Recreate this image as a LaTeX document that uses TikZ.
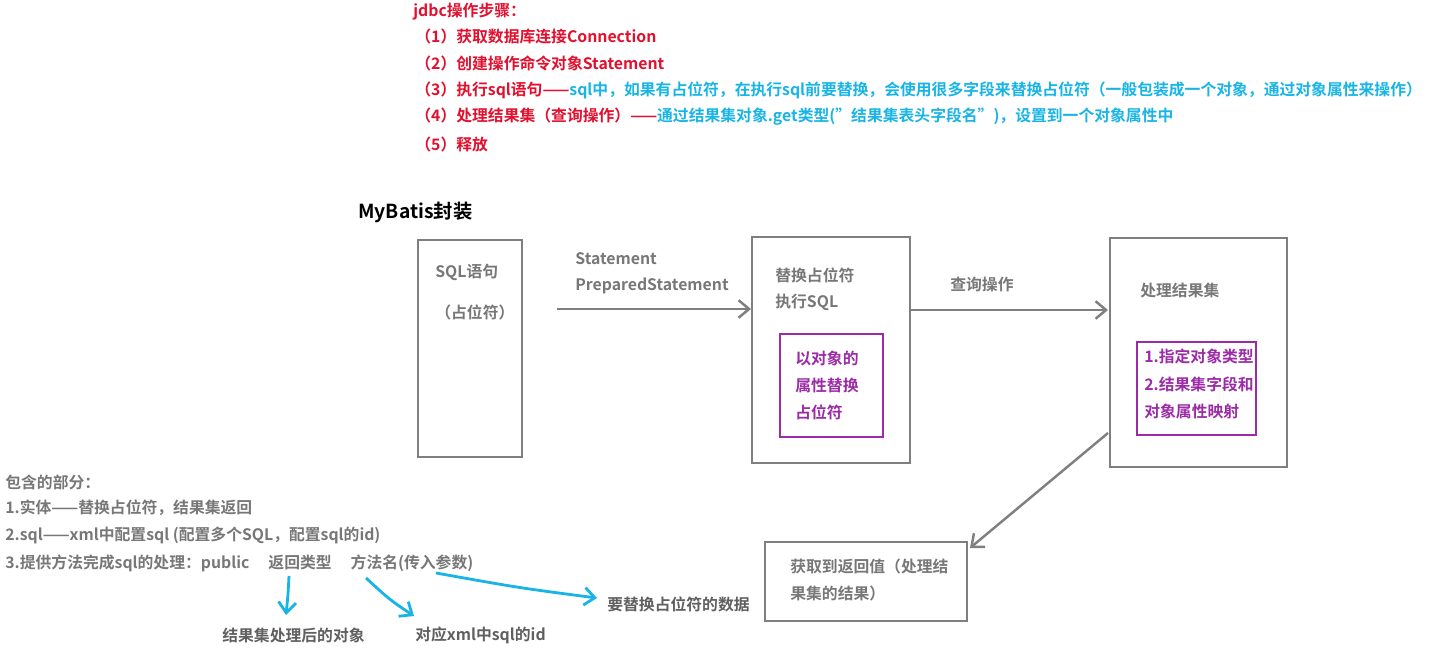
\documentclass[tikz,border=0pt]{standalone}
\usepackage{fontspec}
\setmainfont{Noto Sans CJK SC}[BoldFont=* Bold]
\usetikzlibrary{arrows.meta}
\definecolor{rd}{HTML}{E0102E}
\definecolor{bl}{HTML}{19B4E6}
\definecolor{gy}{HTML}{7F7F7F}
\definecolor{tg}{HTML}{777777}
\definecolor{pu}{HTML}{9B2BA6}
\tikzset{
 px/.style={x=0.02cm,y=-0.02cm},
 t/.style={anchor=west,inner sep=0,font=\fontsize{9}{11}\selectfont\bfseries},
 box/.style={draw=gy,line width=1.6pt},
 ibox/.style={draw=pu,line width=1.4pt},
 garr/.style={draw=gy,line width=1.4pt,-{Straight Barb[length=6pt,width=10pt]}},
 barr/.style={draw=bl,line width=1.6pt,-{Straight Barb[length=6pt,width=10pt]}},
}
\begin{document}
\begin{tikzpicture}[px]
\useasboundingbox (0,0) rectangle (1429,652);
\node[t,text=rd] (l0) at (413,12) {jdbc操作步骤：};
\node[t,text=rd] (l1) at (415,36) {（1）获取数据库连接Connection};
\node[t,text=rd] (l2) at (415,63) {（2）创建操作命令对象Statement};
\node[t,text=rd] (l3) at (415,90) {（3）执行sql语句——\textcolor{bl}{sql中，如果有占位符，在执行sql前要替换，会使用很多字段来替换占位符（一般包装成一个对象，通过对象属性来操作）}};
\node[t,text=rd] (l4) at (415,117) {（4）处理结果集（查询操作）——\textcolor{bl}{通过结果集对象.get类型("结果集表头字段名")，设置到一个对象属性中}};
\node[t,text=rd] (l5) at (415,144) {（5）释放};
\node[t,font=\fontsize{11}{13}\selectfont\bfseries] (mb) at (358,212) {MyBatis封装};

\draw[box] (418,240) rectangle (522,457);
\node[t,text=tg] (s1) at (435,272) {SQL语句};
\node[t,text=tg] (s2) at (435,312) {（占位符）};
\coordinate (a1s) at (557,309); \coordinate (a1e) at (751,309);
\draw[garr] (a1s) -- (a1e);
\node[t,text=tg] (st) at (575,259) {Statement};
\node[t,text=tg] (pst) at (575,286) {PreparedStatement};

\draw[box] (752,237) rectangle (910,463);
\node[t,text=tg] (r1) at (775,275) {替换占位符};
\node[t,text=tg] (r2) at (775,302) {执行SQL};
\draw[ibox] (780,334) rectangle (883,437);
\node[t,text=pu] at (795,358) {以对象的};
\node[t,text=pu] at (795,385) {属性替换};
\node[t,text=pu] at (795,412) {占位符};

\coordinate (a2s) at (911,310); \coordinate (a2e) at (1108,310);
\draw[garr] (a2s) -- (a2e);
\node[t,text=tg] (q) at (950,284) {查询操作};

\draw[box] (1110,238) rectangle (1287,467);
\node[t,text=tg] at (1140,290) {处理结果集};
\draw[ibox] (1137,342) rectangle (1256,435);
\node[t,text=pu] at (1144,356) {1.指定对象类型};
\node[t,text=pu] at (1144,384) {2.结果集字段和};
\node[t,text=pu] at (1144,411) {对象属性映射};

\coordinate (a3s) at (1108,433); \coordinate (a3e) at (970,548);
\draw[garr] (a3s) -- (a3e);
\draw[box] (765,542) rectangle (967,621);
\node[t,text=tg] at (790,566) {获取到返回值（处理结};
\node[t,text=tg] at (790,593) {果集的结果）};

\node[t,text=tg] at (5,482) {包含的部分：};
\node[t,text=tg] at (5,508) {1.实体——替换占位符，结果集返回};
\node[t,text=tg] at (5,535) {2.sql——xml中配置sql (配置多个SQL，配置sql的id)};
\node[t,text=tg] at (5,563) {3.提供方法完成sql的处理：public\hspace{1.2em}返回类型\hspace{1.2em}方法名(传入参数)};

\node[t,text=tg!80!black] (b1) at (222,635) {结果集处理后的对象};
\node[t,text=tg!80!black] (b2) at (415,635) {对应xml中sql的id};
\node[t,text=tg!80!black] (b3) at (607,604) {要替换占位符的数据};
\draw[barr] (289,576) .. controls (288,595) .. (286,615);
\draw[barr] (366,578) .. controls (390,600) .. (414,616);
\draw[barr] (436,573) .. controls (520,588) .. (597,598);
\end{tikzpicture}
\end{document}
